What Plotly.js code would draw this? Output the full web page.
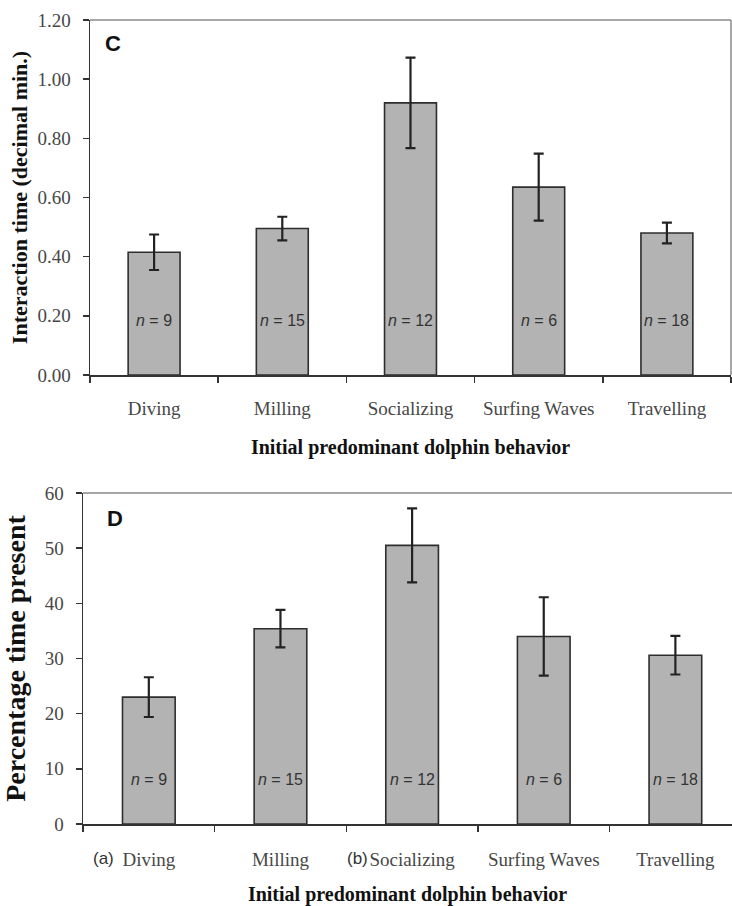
<!DOCTYPE html>
<html>
<head>
<meta charset="utf-8">
<script src="https://cdn.plot.ly/plotly-3.0.1.min.js"></script>
<style>
  html, body { margin: 0; padding: 0; background: #fff; overflow: hidden; }
  #chart { width: 732px; height: 906px; }
</style>
</head>
<body>
<div id="chart"></div>
<script>
// ---- Data ----
const behaviors = ["Diving", "Milling", "Socializing", "Surfing Waves", "Travelling"];
const sampleSizes = [9, 15, 12, 6, 18];

// Panel C: interaction time (decimal min.)
const interactionTime = [0.415, 0.495, 0.92, 0.635, 0.48];
const interactionTimeErr = [0.06, 0.04, 0.153, 0.113, 0.035];

// Panel D: percentage time present
const percentPresent = [23.0, 35.4, 50.5, 34.0, 30.6];
const percentPresentErr = [3.6, 3.4, 6.7, 7.1, 3.5];

const panelCTicks = [0, 0.2, 0.4, 0.6, 0.8, 1.0, 1.2];
const panelDTicks = [0, 10, 20, 30, 40, 50, 60];

// ---- Styling ----
const SERIF = "Liberation Serif, Times New Roman, serif";
const SANS = "Liberation Sans, Arial, sans-serif";
const W = 732, H = 906;
const barFill = "#b3b3b3";
const barLine = "#2e2e2e";
const axisCol = "#333333";
const tickTxt = "#474747";

function px2paperY(py) { return (H - py) / H; }

const traceC = {
  type: "bar", x: behaviors, y: interactionTime,
  xaxis: "x", yaxis: "y",
  marker: { color: barFill, line: { color: barLine, width: 1.6 } },
  error_y: { type: "data", array: interactionTimeErr, visible: true, color: "#222", thickness: 2.2, width: 5 },
  width: 0.405, hoverinfo: "skip", showlegend: false
};
const traceD = {
  type: "bar", x: behaviors, y: percentPresent,
  xaxis: "x2", yaxis: "y2",
  marker: { color: barFill, line: { color: barLine, width: 1.6 } },
  error_y: { type: "data", array: percentPresentErr, visible: true, color: "#222", thickness: 2.2, width: 5 },
  width: 0.40, hoverinfo: "skip", showlegend: false
};

const xCommon = {
  type: "category", showline: true, linecolor: axisCol, linewidth: 1.5,
  ticks: "outside", tickson: "boundaries", ticklen: 6, tickcolor: axisCol, tickwidth: 1.5,
  tickfont: { family: SERIF, size: 19, color: tickTxt },
  showgrid: false, zeroline: false, fixedrange: true
};
const yCommon = {
  showline: true, linecolor: axisCol, linewidth: 1.5,
  ticks: "outside", ticklen: 6, tickcolor: axisCol, tickwidth: 1.5,
  tickfont: { family: SERIF, size: 19, color: tickTxt }, ticklabelstandoff: 8,
  showgrid: false, zeroline: false, fixedrange: true
};

const xTitle = "Initial predominant dolphin behavior";

const layout = {
  width: W, height: H,
  margin: { l: 0, r: 0, t: 0, b: 0 },
  paper_bgcolor: "#fff", plot_bgcolor: "#fff",
  showlegend: false,
  xaxis: Object.assign({}, xCommon, {
    domain: [90 / W, 731 / W], range: [-0.5, 4.5], anchor: "y", ticklabelstandoff: 16,
    title: { text: xTitle, font: { family: SERIF, size: 20, color: "#111", weight: "bold" }, standoff: 21 }
  }),
  yaxis: Object.assign({}, yCommon, {
    domain: [px2paperY(375), px2paperY(20)], range: [0, 1.2], anchor: "x",
    tickvals: panelCTicks, tickformat: ".2f",
    title: { text: "Interaction time (decimal min.)", font: { family: SERIF, size: 22, color: "#111", weight: "bold" }, standoff: 4 }
  }),
  xaxis2: Object.assign({}, xCommon, {
    domain: [83 / W, 1], range: [-0.5, 4.43], anchor: "y2", ticklabelstandoff: 18,
    title: { text: xTitle, font: { family: SERIF, size: 20, color: "#111", weight: "bold" }, standoff: 24 }
  }),
  yaxis2: Object.assign({}, yCommon, {
    domain: [px2paperY(824), px2paperY(493)], range: [0, 60], anchor: "x2",
    tickvals: panelDTicks,
    title: { text: "Percentage time present", font: { family: SERIF, size: 28, color: "#111", weight: "bold" }, standoff: 14 }
  }),
  shapes: [
    { type: "line", xref: "x domain", yref: "y domain", x0: 0, x1: 1, y0: 1, y1: 1, line: { color: "#8a8a8a", width: 1.5 } },
    { type: "line", xref: "x domain", yref: "y domain", x0: 1, x1: 1, y0: 0, y1: 1, line: { color: "#8a8a8a", width: 1.5 } },
    { type: "line", xref: "x2 domain", yref: "y2 domain", x0: 0, x1: 1, y0: 1, y1: 1, line: { color: "#8a8a8a", width: 1.5 } }
  ],
  annotations: []
};

// Panel letters
layout.annotations.push({ text: "<b>C</b>", xref: "paper", yref: "paper", x: 103 / W, y: px2paperY(43), xanchor: "left", yanchor: "middle", showarrow: false, font: { family: SANS, size: 22, color: "#111" } });
layout.annotations.push({ text: "<b>D</b>", xref: "paper", yref: "paper", x: 105 / W, y: px2paperY(518), xanchor: "left", yanchor: "middle", showarrow: false, font: { family: SANS, size: 22, color: "#111" } });

// Sample-size labels inside bars
behaviors.forEach((b, i) => {
  layout.annotations.push({ text: "<i>n</i> = " + sampleSizes[i], xref: "x", yref: "y", x: b, y: 0.183, showarrow: false, font: { family: SANS, size: 16, color: "#333" } });
  layout.annotations.push({ text: "<i>n</i> = " + sampleSizes[i], xref: "x2", yref: "y2", x: b, y: 8.0, showarrow: false, font: { family: SANS, size: 16, color: "#333" } });
});

// (a) / (b) group markers on panel D
layout.annotations.push({ text: "(a)", xref: "x2", yref: "paper", x: behaviors[0], xshift: -45, y: px2paperY(858), yanchor: "middle", showarrow: false, font: { family: SANS, size: 17, color: "#333" } });
layout.annotations.push({ text: "(b)", xref: "x2", yref: "paper", x: behaviors[2], xshift: -55, y: px2paperY(858), yanchor: "middle", showarrow: false, font: { family: SANS, size: 17, color: "#333" } });

Plotly.newPlot("chart", [traceC, traceD], layout, { displayModeBar: false, staticPlot: true });
</script>
</body>
</html>
